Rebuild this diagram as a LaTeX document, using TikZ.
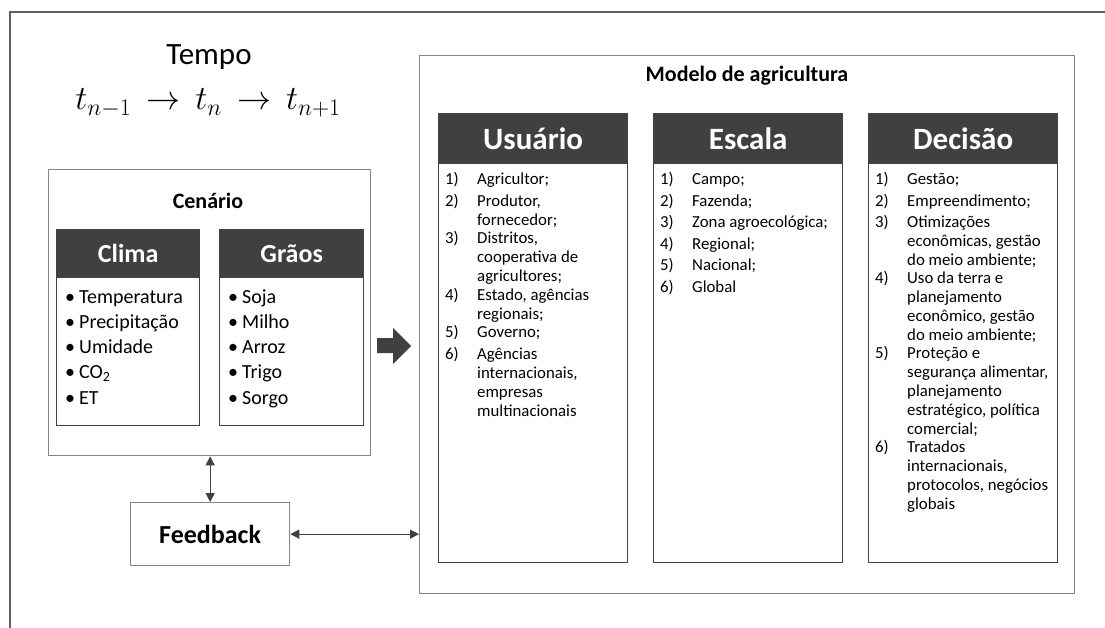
\RequirePackage{fix-cm}
\documentclass[tikz,border=0pt]{standalone}
\usepackage{fontspec}
\setmainfont{Carlito}
\usetikzlibrary{arrows.meta}

\definecolor{hdrgray}{HTML}{404040}
\definecolor{boxgray}{HTML}{858585}
\definecolor{colline}{HTML}{3C4649}
\definecolor{framegray}{HTML}{5F5F5F}

\tikzset{
  panel/.style={draw=boxgray, line width=1.3pt, anchor=north west, inner sep=0pt},
  colbody/.style={draw=colline, line width=1.3pt, anchor=north west, inner sep=0pt},
  colhead/.style={fill=hdrgray, draw=colline, line width=1.3pt, anchor=north west,
    inner sep=0pt, text=white, font=\bfseries\fontsize{31}{37}\selectfont},
  subhead/.style={colhead, font=\bfseries\fontsize{26}{31}\selectfont},
  title/.style={font=\bfseries\fontsize{22}{26}\selectfont, anchor=base},
  listtext/.style={anchor=base west, inner sep=0pt},
  twoway/.style={{Triangle[length=9pt,width=9pt]}-{Triangle[length=9pt,width=9pt]},
    draw=hdrgray, line width=1.2pt},
}

% numbered item with hanging text
\newcommand{\listfont}{\fontsize{16.8}{19}\selectfont}
\newcommand{\numitem}[2]{\makebox[32pt][l]{#1}\parbox[t]{150pt}{\listfont #2}\par\vspace{2.5pt}}
\newcommand{\bulitem}[1]{\makebox[14pt][l]{\textbullet}#1\par}

\begin{document}
\begin{tikzpicture}[x=1pt,y=-1pt]
\useasboundingbox (0,0) rectangle (1105,628);

% outer frame (only top and left edges show)
\draw[framegray, line width=1.5pt] (10,628) -- (10,12) -- (1105,12);

% time line
\node[font=\fontsize{31}{37}\selectfont, anchor=base] (tempo) at (209,65) {Tempo};
\node[font=\fontsize{34}{40}\selectfont, anchor=base] (tline) at (208,110)
  {$t_{n-1}\mskip3mu\rightarrow\mskip3mu t_n\mskip3mu\rightarrow\mskip3mu t_{n+1}$};

% scenario
\node[panel, minimum width=322pt, minimum height=286pt] (cenario) at (48,169) {};
\node[title] (cenariot) at (208,209) {Cenário};

\node[subhead, minimum width=143pt, minimum height=48pt] (clima) at (56,229) {Clima};
\node[colbody, minimum width=143pt, minimum height=148pt] (climab) at (56,277) {};
\node[listtext] (climal) at (65,303) {\begin{minipage}[t]{135pt}\fontsize{20}{25.3}\selectfont
  \bulitem{Temperatura}\bulitem{Precipitação}\bulitem{Umidade}
  \bulitem{CO\textsubscript{2}}\bulitem{ET}\end{minipage}};

\node[subhead, minimum width=144pt, minimum height=48pt] (graos) at (219,229) {Grãos};
\node[colbody, minimum width=144pt, minimum height=148pt] (graosb) at (219,277) {};
\node[listtext] (graosl) at (228,303) {\begin{minipage}[t]{130pt}\fontsize{20}{25.3}\selectfont
  \bulitem{Soja}\bulitem{Milho}\bulitem{Arroz}\bulitem{Trigo}\bulitem{Sorgo}\end{minipage}};

% feedback
\node[panel, minimum width=159pt, minimum height=63pt, font=\bfseries\fontsize{26}{31}\selectfont]
  (fb) at (130,502) {Feedback};

% big arrow
\fill[hdrgray] (377,338) -- (393,338) -- (393,328) -- (411,346) -- (393,364)
  -- (393,353) -- (377,353) -- cycle;

% model
\node[panel, minimum width=655pt, minimum height=538pt] (model) at (419,55) {};
\node[title] (modelt) at (747,82) {Modelo de agricultura};

\node[colhead, minimum width=189pt, minimum height=50pt] (usu) at (438,113) {Usuário};
\node[colbody, minimum width=189pt, minimum height=399pt] (usub) at (438,163) {};
\node[listtext] (usul) at (445,185) {\begin{minipage}[t]{182pt}\listfont
  \numitem{1)}{Agricultor;}
  \numitem{2)}{Produtor,\\fornecedor;}
  \numitem{3)}{Distritos,\\cooperativa de\\agricultores;}
  \numitem{4)}{Estado, agências\\regionais;}
  \numitem{5)}{Governo;}
  \numitem{6)}{Agências\\internacionais,\\empresas\\multinacionais}\end{minipage}};

\node[colhead, minimum width=189pt, minimum height=50pt] (esc) at (653,113) {Escala};
\node[colbody, minimum width=189pt, minimum height=399pt] (escb) at (653,163) {};
\node[listtext] (escl) at (660,185) {\begin{minipage}[t]{182pt}\listfont
  \numitem{1)}{Campo;}
  \numitem{2)}{Fazenda;}
  \numitem{3)}{Zona agroecológica;}
  \numitem{4)}{Regional;}
  \numitem{5)}{Nacional;}
  \numitem{6)}{Global}\end{minipage}};

\node[colhead, minimum width=189pt, minimum height=50pt] (dec) at (868,113) {Decisão};
\node[colbody, minimum width=189pt, minimum height=399pt] (decb) at (868,163) {};
\node[listtext] (decl) at (875,185) {\begin{minipage}[t]{182pt}\listfont
  \numitem{1)}{Gestão;}
  \numitem{2)}{Empreendimento;}
  \numitem{3)}{Otimizações\\econômicas, gestão\\do meio ambiente;}
  \numitem{4)}{Uso da terra e\\planejamento\\econômico, gestão\\do meio ambiente;}
  \numitem{5)}{Proteção e\\segurança alimentar,\\planejamento\\estratégico, política\\comercial;}
  \numitem{6)}{Tratados\\internacionais,\\protocolos, negócios\\globais}\end{minipage}};

% feedback links
\draw[twoway] (cenario.south -| fb.north) -- (fb.north);
\draw[twoway] (fb.east) -- (fb.east -| model.west);
\end{tikzpicture}
\end{document}
